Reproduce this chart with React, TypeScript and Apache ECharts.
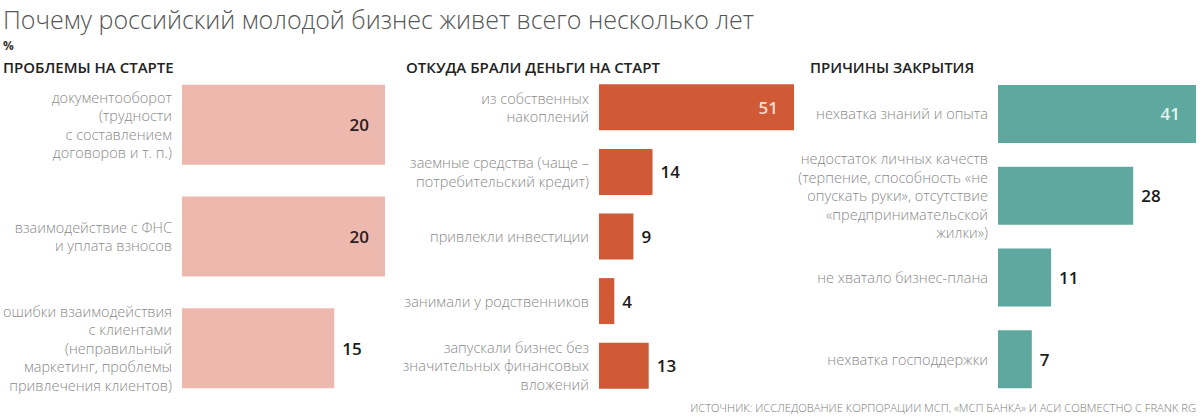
import React, { useEffect, useRef } from "react";
import * as echarts from "echarts";

const titleText = "Почему российский молодой бизнес живет всего несколько лет";
const unitText = "%";
const panelTitles = ["ПРОБЛЕМЫ НА СТАРТЕ", "ОТКУДА БРАЛИ ДЕНЬГИ НА СТАРТ", "ПРИЧИНЫ ЗАКРЫТИЯ"];
const sourceText = "ИСТОЧНИК: ИССЛЕДОВАНИЕ КОРПОРАЦИИ МСП, «МСП БАНКА» И АСИ СОВМЕСТНО С FRANK RG";

const startProblems = [
  "документооборот\n(трудности\nс составлением\nдоговоров и т. п.)",
  "взаимодействие с ФНС\nи уплата взносов",
  "ошибки взаимодействия\nс клиентами\n(неправильный\nмаркетинг, проблемы\nпривлечения клиентов)",
];
const startProblemValues = [20, 20, 15];

const moneySources = [
  "из собственных\nнакоплений",
  "заемные средства (чаще –\nпотребительский кредит)",
  "привлекли инвестиции",
  "занимали у родственников",
  "запускали бизнес без\nзначительных финансовых\nвложений",
];
const moneyValues = [51, 14, 9, 4, 13];

const closeReasons = [
  "нехватка знаний и опыта",
  "недостаток личных качеств\n(терпение, способность «не\nопускать руки», отсутствие\n«предпринимательской\nжилки»)",
  "не хватало бизнес-плана",
  "нехватка господдержки",
];
const closeValues = [41, 28, 11, 7];

const FONT = "'Open Sans', 'Noto Sans', sans-serif";

function makePanel(
  idx: number,
  cats: string[],
  vals: number[],
  color: string,
  insideColor: string,
  barWidth: number,
  insideThreshold: number
) {
  const max = Math.max(...vals);
  return {
    yAxis: {
      type: "category",
      gridIndex: idx,
      data: cats,
      inverse: true,
      axisLine: { show: false },
      axisTick: { show: false },
      splitLine: { show: false },
      axisLabel: {
        color: "#8a8a8a",
        fontFamily: FONT,
        fontWeight: 300,
        fontSize: 14.5,
        lineHeight: 18.5,
        align: "right",
        margin: 10,
      },
    },
    xAxis: {
      type: "value",
      gridIndex: idx,
      min: 0,
      max: max,
      show: false,
    },
    series: {
      type: "bar",
      xAxisIndex: idx,
      yAxisIndex: idx,
      barWidth: barWidth,
      itemStyle: { color: color },
      data: vals.map((v) =>
        v >= insideThreshold
          ? {
              value: v,
              label: {
                show: true,
                position: "insideRight",
                distance: 16,
                color: insideColor,
                fontFamily: FONT,
                fontWeight: 600,
                fontSize: 17,
              },
            }
          : {
              value: v,
              label: {
                show: true,
                position: "right",
                distance: 8,
                color: "#1a1a1a",
                fontFamily: FONT,
                fontWeight: 600,
                fontSize: 17,
              },
            }
      ),
    },
  };
}

export default function App() {
  const ref = useRef<HTMLDivElement>(null);
  useEffect(() => {
    if (!ref.current) return;
    const chart = echarts.init(ref.current, undefined, { renderer: "svg" });
    const p0 = makePanel(0, startProblems, startProblemValues, "#EDB8AE", "#2b1d1d", 80, 16);
    const p1 = makePanel(1, moneySources, moneyValues, "#D05A35", "#F8DCCF", 46, 50);
    const p2 = makePanel(2, closeReasons, closeValues, "#5FA8A0", "#E4F3F1", 58, 40);
    const headerStyle = {
      fill: "#222",
      font: `600 15px ${FONT}`,
      verticalAlign: "middle",
    };
    chart.setOption({
      animation: false,
      backgroundColor: "#ffffff",
      grid: [
        { left: 181, width: 204, top: 69, height: 335 },
        { left: 599, width: 195, top: 75, height: 323 },
        { left: 998, width: 198, top: 73, height: 327 },
      ],
      xAxis: [p0.xAxis, p1.xAxis, p2.xAxis],
      yAxis: [p0.yAxis, p1.yAxis, p2.yAxis],
      series: [p0.series, p1.series, p2.series],
      graphic: [
        {
          type: "text",
          x: 3,
          y: 19,
          style: { text: titleText, fill: "#555", font: `300 25px ${FONT}`, verticalAlign: "middle" },
        },
        {
          type: "text",
          x: 3,
          y: 45,
          style: { text: unitText, fill: "#333", font: `700 12px ${FONT}`, verticalAlign: "middle" },
        },
        { type: "text", x: 3, y: 67, style: { text: panelTitles[0], ...headerStyle } },
        { type: "text", x: 406, y: 67, style: { text: panelTitles[1], ...headerStyle } },
        { type: "text", x: 810, y: 67, style: { text: panelTitles[2], ...headerStyle } },
        {
          type: "text",
          x: 1196,
          y: 407,
          style: {
            text: sourceText,
            fill: "#7a7a7a",
            font: `300 11.2px ${FONT}`,
            align: "right",
            verticalAlign: "middle",
          },
        },
      ],
    });
    return () => chart.dispose();
  }, []);
  return (
    <div
      ref={ref}
      style={{ position: "fixed", left: 0, top: 0, width: 1202, height: 417, background: "#fff" }}
    />
  );
}
